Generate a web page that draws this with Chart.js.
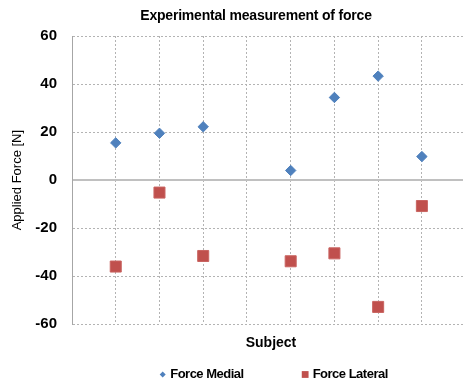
<!DOCTYPE html>
<html>
<head>
<meta charset="utf-8">
<script src="https://cdn.jsdelivr.net/npm/chart.js@4/dist/chart.umd.min.js"></script>
<style>
  html, body { margin: 0; padding: 0; overflow: hidden; background: #fff; }
  #wrap { width: 463px; height: 384px; overflow: hidden; }
  canvas { display: block; }
</style>
</head>
<body>
<div id="wrap"><canvas id="c" width="470" height="384"></canvas></div>
<script>
// Subjects with measurements (subject 4 has none)
const subjects = [1, 2, 3, 5, 6, 7, 8];
const forceMedial = [15.5, 19.5, 22.2, 4.0, 34.4, 43.3, 9.8];
const forceLateral = [-36.0, -5.2, -31.6, -33.8, -30.5, -52.8, -10.8];
const yTicks = [-60, -40, -20, 0, 20, 40, 60];

const chartTitle = 'Experimental measurement of force';
const xTitle = 'Subject';
const yTitle = 'Applied Force [N]';

const BLUE = '#4F81BD';
const RED = '#C0504D';
const GRID = '#b3b3b3';
const FONT = "'Liberation Sans', Arial, sans-serif";

const toPoints = (ys) => subjects.map((s, i) => ({ x: s, y: ys[i] }));

// Title drawn above the plot
const titlePlugin = {
  id: 'topTitle',
  afterDraw(chart) {
    const ctx = chart.ctx;
    ctx.save();
    ctx.font = 'bold 14px ' + FONT;
    if ('letterSpacing' in ctx) ctx.letterSpacing = '-0.2px';
    ctx.fillStyle = '#000';
    ctx.textAlign = 'center';
    ctx.textBaseline = 'middle';
    ctx.fillText(chartTitle, 256, 16);
    ctx.restore();
  }
};

// Legend row under the x-axis title
const legendPlugin = {
  id: 'bottomLegend',
  afterDraw(chart) {
    const ctx = chart.ctx;
    const ds = chart.data.datasets;
    const area = chart.chartArea;
    ctx.save();
    ctx.font = 'bold 13px ' + FONT;
    if ('letterSpacing' in ctx) ctx.letterSpacing = '-0.5px';
    ctx.textBaseline = 'middle';
    ctx.textAlign = 'left';
    const markW = 7, markGap = 4, itemGap = 58;
    const widths = ds.map(d => markW + markGap + ctx.measureText(d.label).width);
    const total = widths.reduce((a, b) => a + b, 0) + itemGap * (ds.length - 1);
    let x = (area.left + area.right) / 2 + 2.5 - total / 2;
    const y = 374.5;
    ds.forEach((d, i) => {
      const cx = x + markW / 2;
      ctx.fillStyle = d.backgroundColor;
      ctx.beginPath();
      if (d.pointStyle === 'rectRot') {
        const r = 3;
        ctx.moveTo(cx - r, y); ctx.lineTo(cx, y - r); ctx.lineTo(cx + r, y); ctx.lineTo(cx, y + r);
        ctx.closePath();
      } else {
        ctx.rect(cx - 3.4, y - 3.4, 6.8, 6.8);
      }
      ctx.fill();
      ctx.fillStyle = '#000';
      ctx.fillText(d.label, x + markW + markGap, y);
      x += widths[i] + itemGap;
    });
    ctx.restore();
  }
};

new Chart(document.getElementById('c'), {
  type: 'scatter',
  data: {
    datasets: [
      {
        label: 'Force Medial',
        data: toPoints(forceMedial),
        pointStyle: 'rectRot',
        pointRadius: 5.2,
        borderWidth: 1,
        backgroundColor: BLUE,
        borderColor: BLUE
      },
      {
        label: 'Force Lateral',
        data: toPoints(forceLateral),
        pointStyle: 'rect',
        pointRadius: 7.8,
        borderWidth: 1,
        backgroundColor: RED,
        borderColor: '#c96461'
      }
    ]
  },
  options: {
    responsive: false,
    animation: false,
    events: [],
    layout: { autoPadding: false, padding: { top: 36, left: 6, right: 0, bottom: 29 } },
    plugins: {
      legend: { display: false },
      title: { display: false },
      tooltip: { enabled: false }
    },
    scales: {
      x: {
        type: 'linear',
        min: 0,
        max: 9.1,
        ticks: { display: false, stepSize: 1, includeBounds: false },
        grid: {
          drawTicks: false,
          color: (c) => (c.tick && c.tick.value === 0) ? 'rgba(0,0,0,0)' : GRID,
          lineWidth: 1
        },
        border: { display: false, dash: [2, 2] },
        title: {
          display: true,
          text: xTitle,
          color: '#000',
          font: { family: FONT, size: 14, weight: 'bold' },
          padding: { top: 11, bottom: 3 }
        }
      },
      y: {
        min: -60,
        max: 60,
        afterBuildTicks: (scale) => { scale.ticks = yTicks.map(v => ({ value: v })); },
        afterFit: (scale) => { scale.width = 66; },
        ticks: {
          color: '#000',
          padding: 15,
          font: { family: FONT, size: 15, weight: 'bold' }
        },
        grid: {
          drawTicks: false,
          color: (c) => (c.tick && c.tick.value === 0) ? '#c0c0c0' : GRID,
          lineWidth: (c) => (c.tick && c.tick.value === 0) ? 2 : 1
        },
        border: {
          display: true,
          color: '#a6a6a6',
          width: 1,
          dash: (c) => (c.tick && c.tick.value === 0) ? [] : [2, 2]
        },
        title: {
          display: true,
          text: yTitle,
          color: '#000',
          font: { family: FONT, size: 13 },
          padding: { top: 4, bottom: 6 }
        }
      }
    }
  },
  plugins: [titlePlugin, legendPlugin]
});
</script>
</body>
</html>
